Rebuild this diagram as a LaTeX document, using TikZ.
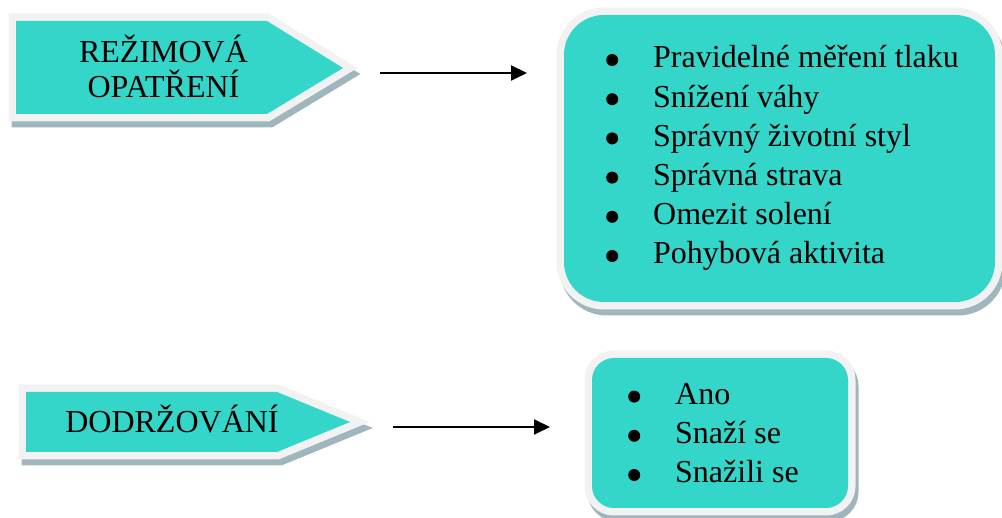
\documentclass[tikz,border=0pt]{standalone}
\usepackage{fontspec}
\setmainfont{Liberation Serif}
\usetikzlibrary{arrows.meta}
\definecolor{tealfill}{HTML}{33D6C9}
\definecolor{rimgray}{HTML}{F2F2F2}
\definecolor{shadowgray}{HTML}{9EB6BC}

% round list bullet followed by the indent to the item text
\newcommand{\listdot}{\makebox[47pt][l]{\raisebox{2pt}{\tikz[x=1pt,y=1pt]\fill[black] (0,0) circle (6pt);}}}

\begin{document}
\begin{tikzpicture}[x=1pt,y=-1pt,
  shadowpart/.style={draw=shadowgray,fill=shadowgray,line width=15pt,shift={(3,6)}},
  rimpart/.style={draw=rimgray,fill=rimgray,line width=15pt},
  facepart/.style={fill=tealfill},
  label/.style={font=\fontsize{32pt}{35pt}\selectfont,align=center,inner sep=0pt},
  listtext/.style={font=\fontsize{32pt}{39.2pt}\selectfont,align=left,inner sep=0pt,anchor=base west},
  arr/.style={line width=2pt,-{Triangle[length=16pt,width=15pt]}}]

\useasboundingbox (0,0) rectangle (1002,518);

% pentagon outlines (shadow, rim, face)
\def\pentA{(16,21) -- (267,21) -- (343,68) -- (267,114) -- (16,114) -- cycle}
\def\pentB{(26,392) -- (277,392) -- (350,422) -- (277,452) -- (26,452) -- cycle}
\foreach \p in {\pentA,\pentB}{
  \path[shadowpart] \p;
}
\foreach \p in {\pentA,\pentB}{
  \path[rimpart] \p;
  \path[facepart] \p;
}

% rounded boxes
\path[shadowpart,rounded corners=40pt] (564,15) rectangle (995,302);
\path[rimpart,rounded corners=40pt] (564,15) rectangle (995,302);
\path[facepart,rounded corners=40pt] (564,15) rectangle (995,302);

\path[shadowpart,rounded corners=22pt] (592,358) rectangle (848,508);
\path[rimpart,rounded corners=22pt] (592,358) rectangle (848,508);
\path[facepart,rounded corners=22pt] (592,358) rectangle (848,508);

% labels (base anchor sits on the last line)
\node[label,anchor=base] (rezim) at (163.5,98) {REŽIMOVÁ\\OPATŘENÍ};
\node[label,anchor=base] (dodrz) at (172,433) {DODRŽOVÁNÍ};

% lists (base anchor sits on the last line)
\node[listtext] (opatreni) at (606,264) {%
  \listdot Pravidelné měření tlaku\\
  \listdot Snížení váhy\\
  \listdot Správný životní styl\\
  \listdot Správná strava\\
  \listdot Omezit solení\\
  \listdot Pohybová aktivita};
\node[listtext] (stav) at (628,483) {%
  \listdot Ano\\
  \listdot Snaží se\\
  \listdot Snažili se};

% connectors
\coordinate (a1s) at (380,73);
\coordinate (a1e) at (527,73);
\coordinate (a2s) at (393,427);
\coordinate (a2e) at (550,427);
\draw[arr] (a1s) -- (a1e);
\draw[arr] (a2s) -- (a2e);
\end{tikzpicture}
\end{document}
